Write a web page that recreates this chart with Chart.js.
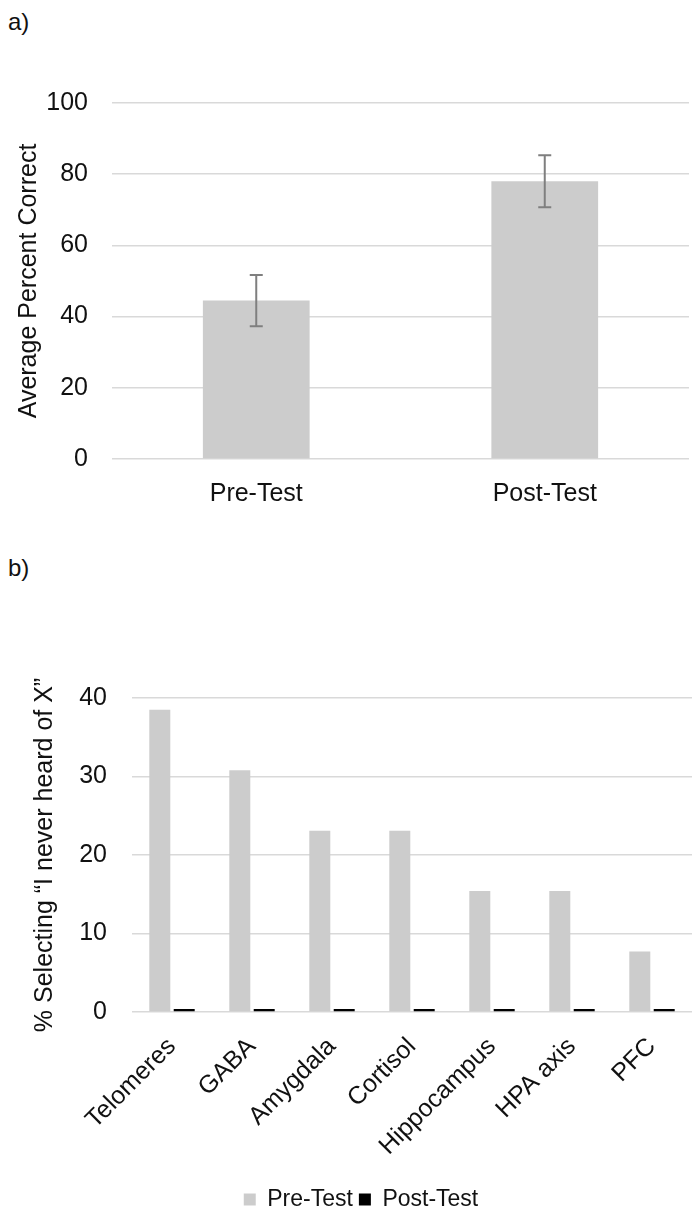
<!DOCTYPE html>
<html>
<head>
<meta charset="utf-8">
<script src="https://cdn.jsdelivr.net/npm/chart.js@4"></script>
<style>
  html, body { margin: 0; background: #fff; overflow: hidden; font-family: 'Liberation Sans', Arial, sans-serif; }
  .page { position: relative; width: 700px; height: 1216px; overflow: hidden; }
  .panel { position: absolute; left: 8px; font-size: 24px; color: #111; }
  .box { position: absolute; left: 0; width: 700px; }
</style>
</head>
<body>
<div class="page">
  <div class="panel" style="top:8px">a)</div>
  <div class="box" style="top:64px;height:466px"><canvas id="chartA"></canvas></div>
  <div class="panel" style="top:554px">b)</div>
  <div class="box" style="top:600px;height:621px"><canvas id="chartB"></canvas></div>
</div>
<script>
// panel a
const testLabels = ['Pre-Test', 'Post-Test'];
const avgCorrect = [44.5, 78];
const avgError = [7.2, 7.3];

// panel b
const terms = ['Telomeres', 'GABA', 'Amygdala', 'Cortisol', 'Hippocampus', 'HPA axis', 'PFC'];
const preNeverHeard = [38.5, 30.8, 23.1, 23.1, 15.4, 15.4, 7.7];
const postNeverHeard = [0, 0, 0, 0, 0, 0, 0];

const textColor = '#111';
const gridColor = '#d9d9d9';
Chart.defaults.font.family = "'Liberation Sans', Arial, sans-serif";
Chart.defaults.color = textColor;

// error bars for panel a
const errorBars = {
    id: 'errorBars',
    afterDatasetsDraw(chart) {
        const meta = chart.getDatasetMeta(0);
        const y = chart.scales.y;
        const ctx = chart.ctx;
        ctx.save();
        ctx.strokeStyle = '#7f7f7f';
        ctx.lineWidth = 2;
        meta.data.forEach((bar, i) => {
            const top = y.getPixelForValue(avgCorrect[i] + avgError[i]);
            const bot = y.getPixelForValue(avgCorrect[i] - avgError[i]);
            ctx.beginPath();
            ctx.moveTo(bar.x, top); ctx.lineTo(bar.x, bot);
            ctx.moveTo(bar.x - 6.5, top); ctx.lineTo(bar.x + 6.5, top);
            ctx.moveTo(bar.x - 6.5, bot); ctx.lineTo(bar.x + 6.5, bot);
            ctx.stroke();
        });
        ctx.restore();
    }
};

const chartA = new Chart(document.querySelector('#chartA'), {
    type: 'bar',
    data: {
        labels: testLabels,
        datasets: [{
            data: avgCorrect,
            backgroundColor: '#cccccc',
            barPercentage: 0.37,
            categoryPercentage: 1,
        }]
    },
    options: {
        responsive: true,
        maintainAspectRatio: false,
        animation: false,
        layout: { padding: { left: 14, right: 11, top: 26, bottom: 10 } },
        scales: {
            y: {
                min: 0,
                max: 100,
                border: { display: false },
                grid: { color: gridColor, lineWidth: 1.5, drawTicks: false },
                ticks: { stepSize: 20, padding: 24, font: { size: 25 } },
                title: {
                    display: true,
                    text: 'Average Percent Correct',
                    font: { size: 25 },
                    padding: 0
                },
                afterFit: (scale) => { scale.width = 98; }
            },
            x: {
                border: { display: false },
                grid: { display: false },
                ticks: { padding: 12, font: { size: 25 } },
                afterFit: (scale) => { scale.height = 61; }
            }
        },
        plugins: {
            legend: { display: false },
            tooltip: { enabled: false }
        }
    },
    plugins: [errorBars]
});

const chartB = new Chart(document.querySelector('#chartB'), {
    type: 'bar',
    data: {
        labels: terms,
        datasets: [
            {
                label: 'Pre-Test',
                data: preNeverHeard,
                backgroundColor: '#cccccc',
                barPercentage: 0.86,
                categoryPercentage: 0.61,
            },
            {
                label: 'Post-Test',
                data: postNeverHeard,
                backgroundColor: '#000000',
                barPercentage: 0.86,
                categoryPercentage: 0.61,
                minBarLength: 3,
            }
        ]
    },
    options: {
        responsive: true,
        maintainAspectRatio: false,
        animation: false,
        layout: { padding: { left: 30, right: 8, top: 98, bottom: 0 } },
        scales: {
            y: {
                min: 0,
                max: 40,
                border: { display: false },
                grid: { color: gridColor, lineWidth: 1.5, drawTicks: false },
                ticks: { stepSize: 10, padding: 25, font: { size: 25 } },
                title: {
                    display: true,
                    text: '% Selecting \u201cI never heard of X\u201d',
                    font: { size: 25 },
                    padding: 0
                },
                afterFit: (scale) => { scale.width = 102; }
            },
            x: {
                border: { display: false },
                grid: { display: false },
                ticks: { minRotation: 45, maxRotation: 45, padding: 12, font: { size: 25 } },
                afterFit: (scale) => { scale.height = 170; }
            }
        },
        plugins: {
            legend: {
                position: 'bottom',
                labels: { boxWidth: 12, boxHeight: 12, padding: 6, font: { size: 23 } }
            },
            tooltip: { enabled: false }
        }
    }
});
</script>
</body>
</html>
